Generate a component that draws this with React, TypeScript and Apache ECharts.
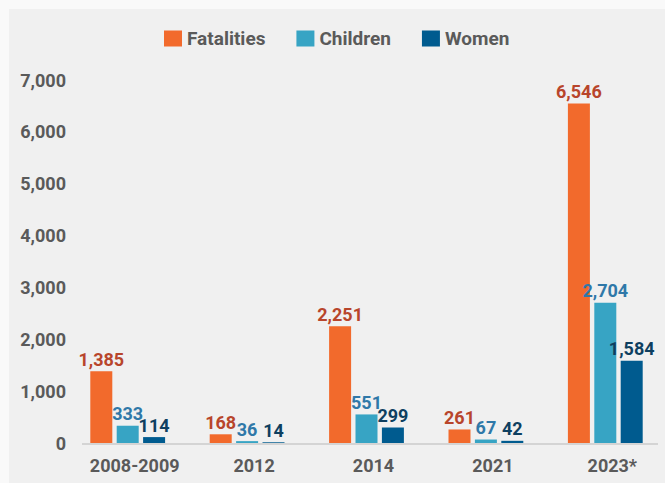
import React, { useEffect, useRef } from "react";
import * as echarts from "echarts";

const categories = ["2008-2009", "2012", "2014", "2021", "2023*"];
const fatalities = [1385, 168, 2251, 261, 6546];
const children = [333, 36, 551, 67, 2704];
const women = [114, 14, 299, 42, 1584];
const seriesNames = ["Fatalities", "Children", "Women"];

const FONT = "Roboto, 'Noto Sans', sans-serif";
const GRAY = "#5a5a5a";

export default function App() {
  const ref = useRef<HTMLDivElement>(null);
  useEffect(() => {
    if (!ref.current) return;
    const chart = echarts.init(ref.current, null, { renderer: "svg" });
    const fmt = (v: number) => v.toLocaleString("en-US");
    const mk = (name: string, data: number[], color: string, labelColor: string) => ({
      name,
      type: "bar",
      data,
      barWidth: 22,
      barGap: "20%",
      itemStyle: { color },
      label: {
        show: true,
        position: "top",
        distance: 3,
        color: labelColor,
        fontFamily: FONT,
        fontWeight: "bold",
        fontSize: 18,
        formatter: (p: any) => fmt(p.value),
      },
    });
    chart.setOption({
      animation: false,
      backgroundColor: "transparent",
      graphic: [
        {
          type: "line",
          silent: true,
          shape: { x1: 82, y1: 444, x2: 658, y2: 444 },
          style: { stroke: "#d4d4d4", lineWidth: 2 },
          z: 1,
        },
      ],
      legend: {
        top: 24,
        left: 159,
        itemWidth: 18,
        itemHeight: 16,
        itemGap: 31,
        icon: "rect",
        data: seriesNames,
        textStyle: { color: GRAY, fontFamily: FONT, fontWeight: "bold", fontSize: 19 },
      },
      grid: { left: 68, right: -5, top: 80, bottom: 40, containLabel: false },
      xAxis: {
        type: "category",
        data: categories,
        axisLine: { show: false },
        axisTick: { show: false },
        axisLabel: {
          color: GRAY,
          fontFamily: FONT,
          fontWeight: "bold",
          fontSize: 18,
          margin: 13,
          padding: [0, 0, 0, 14],
        },
      },
      yAxis: {
        type: "value",
        min: 0,
        max: 7000,
        interval: 1000,
        splitLine: { show: false },
        axisLine: { show: false },
        axisTick: { show: false },
        axisLabel: {
          color: GRAY,
          fontFamily: FONT,
          fontWeight: "bold",
          fontSize: 18,
          margin: 2,
          formatter: (v: number) => fmt(v),
        },
      },
      series: [
        mk(seriesNames[0], fatalities, "#f26a2c", "#b8452b"),
        mk(seriesNames[1], children, "#37a4c4", "#2f78a8"),
        mk(seriesNames[2], women, "#005b8f", "#0e3f60"),
      ],
    });
    return () => chart.dispose();
  }, []);
  return (
    <div style={{ position: "fixed", left: 0, top: 0, width: 665, height: 483, background: "#f9f9f9" }}>
      <div style={{ position: "absolute", left: 9, top: 9, width: 656, height: 474, background: "#f0f0f0" }} />
      <div ref={ref} style={{ position: "absolute", left: 0, top: 0, width: 665, height: 483 }} />
    </div>
  );
}
